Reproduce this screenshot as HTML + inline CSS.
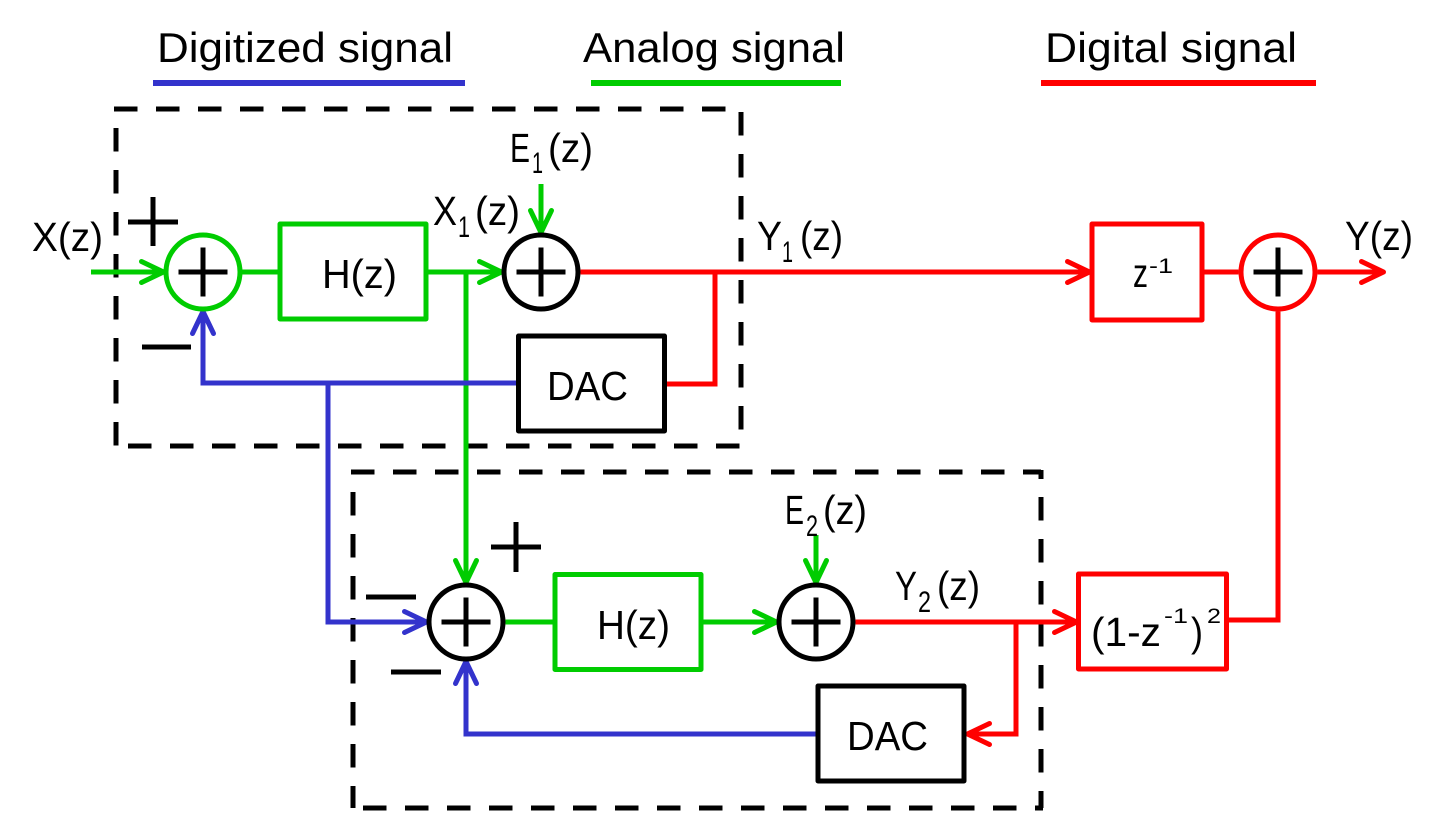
<!DOCTYPE html>
<html>
<head>
<meta charset="utf-8">
<style>
  html,body{margin:0;padding:0;background:#fff;}
  svg{display:block;}
</style>
</head>
<body>
<svg xmlns="http://www.w3.org/2000/svg" width="1448" height="813" viewBox="0 0 1448 813">
  <rect width="1448" height="813" fill="#fff"/>

  <!-- Legend -->
  <g font-family="'Liberation Sans', sans-serif" font-size="42" fill="#000">
    <text x="157" y="62" textLength="296" lengthAdjust="spacingAndGlyphs">Digitized signal</text>
    <text x="583" y="62" textLength="262" lengthAdjust="spacingAndGlyphs">Analog signal</text>
    <text x="1045" y="62" textLength="252" lengthAdjust="spacingAndGlyphs">Digital signal</text>
  </g>
  <path d="M153,83 H465" stroke="#3333CC" stroke-width="6"/>
  <path d="M591,83 H841" stroke="#00CC00" stroke-width="6"/>
  <path d="M1041,83 H1316" stroke="#FF0000" stroke-width="6"/>

  <!-- Dashed boxes -->
  <g stroke="#000" stroke-width="5" fill="none" stroke-dasharray="23.5 18.5">
    <!-- box 1 -->
    <path d="M114,109 L741,109"/>
    <path d="M741,112 L741,447"/>
    <path d="M128,446 L741,446"/>
    <path d="M116,128 L116,446"/>
    <!-- box 2 -->
    <path d="M351,472 L1041,472"/>
    <path d="M1041,497 L1041,808"/>
    <path d="M363,808 L1043,808"/>
    <path d="M353,492 L353,808"/>
  </g>
  <path d="M1041,470 V479" stroke="#000" stroke-width="5"/>

  <!-- Green (analog) -->
  <g stroke="#00CC00" stroke-width="5" fill="none">
    <path d="M91,272 H163"/>
    <path d="M240.5,272 H280"/>
    <path d="M428,272 H501"/>
    <path d="M466,272 V582"/>
    <path d="M541,184 V232"/>
    <path d="M505.5,622 H555"/>
    <path d="M703,622 H776"/>
    <path d="M816,535 V582"/>
    <rect x="280" y="224" width="146" height="95" stroke-linejoin="round"/>
    <rect x="555" y="574.5" width="146" height="95" stroke-linejoin="round"/>
  </g>
  <g stroke="#00CC00" stroke-width="5" fill="none" stroke-linecap="round" stroke-linejoin="round">
    <path d="M141.5,261.5 L163.5,272 L141.5,282.5"/>
    <path d="M479.5,261.5 L501.5,272 L479.5,282.5"/>
    <path d="M455.5,560.5 L466,582.5 L476.5,560.5"/>
    <path d="M530.5,210.5 L541,232.5 L551.5,210.5"/>
    <path d="M754.5,611.5 L776.5,622 L754.5,632.5"/>
    <path d="M805.5,560.5 L816,582.5 L826.5,560.5"/>
  </g>

  <!-- Red (digital) -->
  <g stroke="#FF0000" stroke-width="5" fill="none">
    <path d="M580.5,272 H1089"/>
    <path d="M715,272 V384 H667"/>
    <path d="M1204,272 H1238.5"/>
    <path d="M1317.5,272 H1383"/>
    <path d="M1278,311.5 V620 H1229"/>
    <path d="M855.5,622 H1076"/>
    <path d="M1016,622 V734 H968"/>
    <rect x="1092" y="224" width="110" height="96" stroke-linejoin="round"/>
    <rect x="1078.5" y="574" width="148" height="95" stroke-linejoin="round"/>
  </g>
  <g stroke="#FF0000" stroke-width="5" fill="none" stroke-linecap="round" stroke-linejoin="round">
    <path d="M1067.5,261.5 L1089.5,272 L1067.5,282.5"/>
    <path d="M1361.5,261.5 L1383.5,272 L1361.5,282.5"/>
    <path d="M1054.5,611.5 L1076.5,622 L1054.5,632.5"/>
    <path d="M989.5,723.5 L967.5,734 L989.5,744.5"/>
  </g>

  <!-- Blue (digitized) -->
  <g stroke="#3333CC" stroke-width="5" fill="none">
    <path d="M516,383 H203 V312"/>
    <path d="M328,383 V622 H426"/>
    <path d="M816,734 H466 V662"/>
  </g>
  <g stroke="#3333CC" stroke-width="5" fill="none" stroke-linecap="round" stroke-linejoin="round">
    <path d="M192.5,333.5 L203,311.5 L213.5,333.5"/>
    <path d="M404.5,611.5 L426.5,622 L404.5,632.5"/>
    <path d="M455.5,683.5 L466,661.5 L476.5,683.5"/>
  </g>

  <!-- Summing junctions -->
  <circle cx="203" cy="272" r="37" fill="#fff" stroke="#00CC00" stroke-width="5"/>
  <circle cx="541" cy="272" r="37" fill="#fff" stroke="#000" stroke-width="5"/>
  <circle cx="1278" cy="272" r="37" fill="#fff" stroke="#FF0000" stroke-width="5"/>
  <circle cx="466" cy="622" r="37" fill="#fff" stroke="#000" stroke-width="5"/>
  <circle cx="816" cy="622" r="37" fill="#fff" stroke="#000" stroke-width="5"/>
  <g stroke="#000" stroke-width="5" fill="none">
    <path d="M178.5,272 H227.5 M203,247.5 V296.5"/>
    <path d="M516.5,272 H565.5 M541,247.5 V296.5"/>
    <path d="M1253.5,272 H1302.5 M1278,247.5 V296.5"/>
    <path d="M441.5,622 H490.5 M466,597.5 V646.5"/>
    <path d="M791.5,622 H840.5 M816,597.5 V646.5"/>
  </g>

  <!-- DAC boxes -->
  <g stroke="#000" stroke-width="5" fill="none" stroke-linejoin="round">
    <rect x="518.5" y="336" width="146" height="95"/>
    <rect x="818" y="686" width="146" height="95"/>
  </g>

  <!-- +/- signs -->
  <g stroke="#000" stroke-width="5" fill="none">
    <path d="M128,222 H178 M153,197 V246"/>
    <path d="M142,347 H191"/>
    <path d="M491,547 H541 M516,522 V572"/>
    <path d="M366,597 H416"/>
    <path d="M391,672 H441"/>
  </g>

  <!-- Labels -->
  <g font-family="'Liberation Sans', sans-serif" font-size="41" fill="#000">
    <text x="32" y="251" textLength="71" lengthAdjust="spacingAndGlyphs">X(z)</text>
    <text x="322" y="288" textLength="75" lengthAdjust="spacingAndGlyphs">H(z)</text>

    <text x="433" y="225" textLength="24" lengthAdjust="spacingAndGlyphs">X</text>
    <text x="458" y="237" font-size="30" textLength="12" lengthAdjust="spacingAndGlyphs">1</text>
    <text x="475" y="225" textLength="45" lengthAdjust="spacingAndGlyphs">(z)</text>

    <text x="510" y="162" textLength="20" lengthAdjust="spacingAndGlyphs">E</text>
    <text x="532" y="173" font-size="30" textLength="11" lengthAdjust="spacingAndGlyphs">1</text>
    <text x="548" y="162" textLength="45" lengthAdjust="spacingAndGlyphs">(z)</text>

    <text x="757" y="250" textLength="25" lengthAdjust="spacingAndGlyphs">Y</text>
    <text x="782" y="262" font-size="30" textLength="11" lengthAdjust="spacingAndGlyphs">1</text>
    <text x="800" y="250" textLength="43" lengthAdjust="spacingAndGlyphs">(z)</text>

    <text x="547" y="400" textLength="81" lengthAdjust="spacingAndGlyphs">DAC</text>

    <text x="1133" y="287" textLength="15" lengthAdjust="spacingAndGlyphs">z</text>
    <text x="1149" y="273" font-size="21" textLength="24" lengthAdjust="spacingAndGlyphs">-1</text>

    <text x="1345" y="250" textLength="68" lengthAdjust="spacingAndGlyphs">Y(z)</text>

    <text x="785" y="524" textLength="19" lengthAdjust="spacingAndGlyphs">E</text>
    <text x="806" y="536" font-size="30" textLength="12" lengthAdjust="spacingAndGlyphs">2</text>
    <text x="823" y="524" textLength="44" lengthAdjust="spacingAndGlyphs">(z)</text>

    <text x="895" y="600" textLength="22" lengthAdjust="spacingAndGlyphs">Y</text>
    <text x="918" y="612" font-size="30" textLength="13" lengthAdjust="spacingAndGlyphs">2</text>
    <text x="937" y="600" textLength="43" lengthAdjust="spacingAndGlyphs">(z)</text>

    <text x="597" y="639" textLength="73" lengthAdjust="spacingAndGlyphs">H(z)</text>
    <text x="847" y="750" textLength="81" lengthAdjust="spacingAndGlyphs">DAC</text>

    <text x="1091" y="646" textLength="70" lengthAdjust="spacingAndGlyphs">(1-z</text>
    <text x="1164" y="623" font-size="21" textLength="24" lengthAdjust="spacingAndGlyphs">-1</text>
    <text x="1191" y="646" textLength="12" lengthAdjust="spacingAndGlyphs">)</text>
    <text x="1207" y="623" font-size="21" textLength="14" lengthAdjust="spacingAndGlyphs">2</text>
  </g>
</svg>
</body>
</html>
